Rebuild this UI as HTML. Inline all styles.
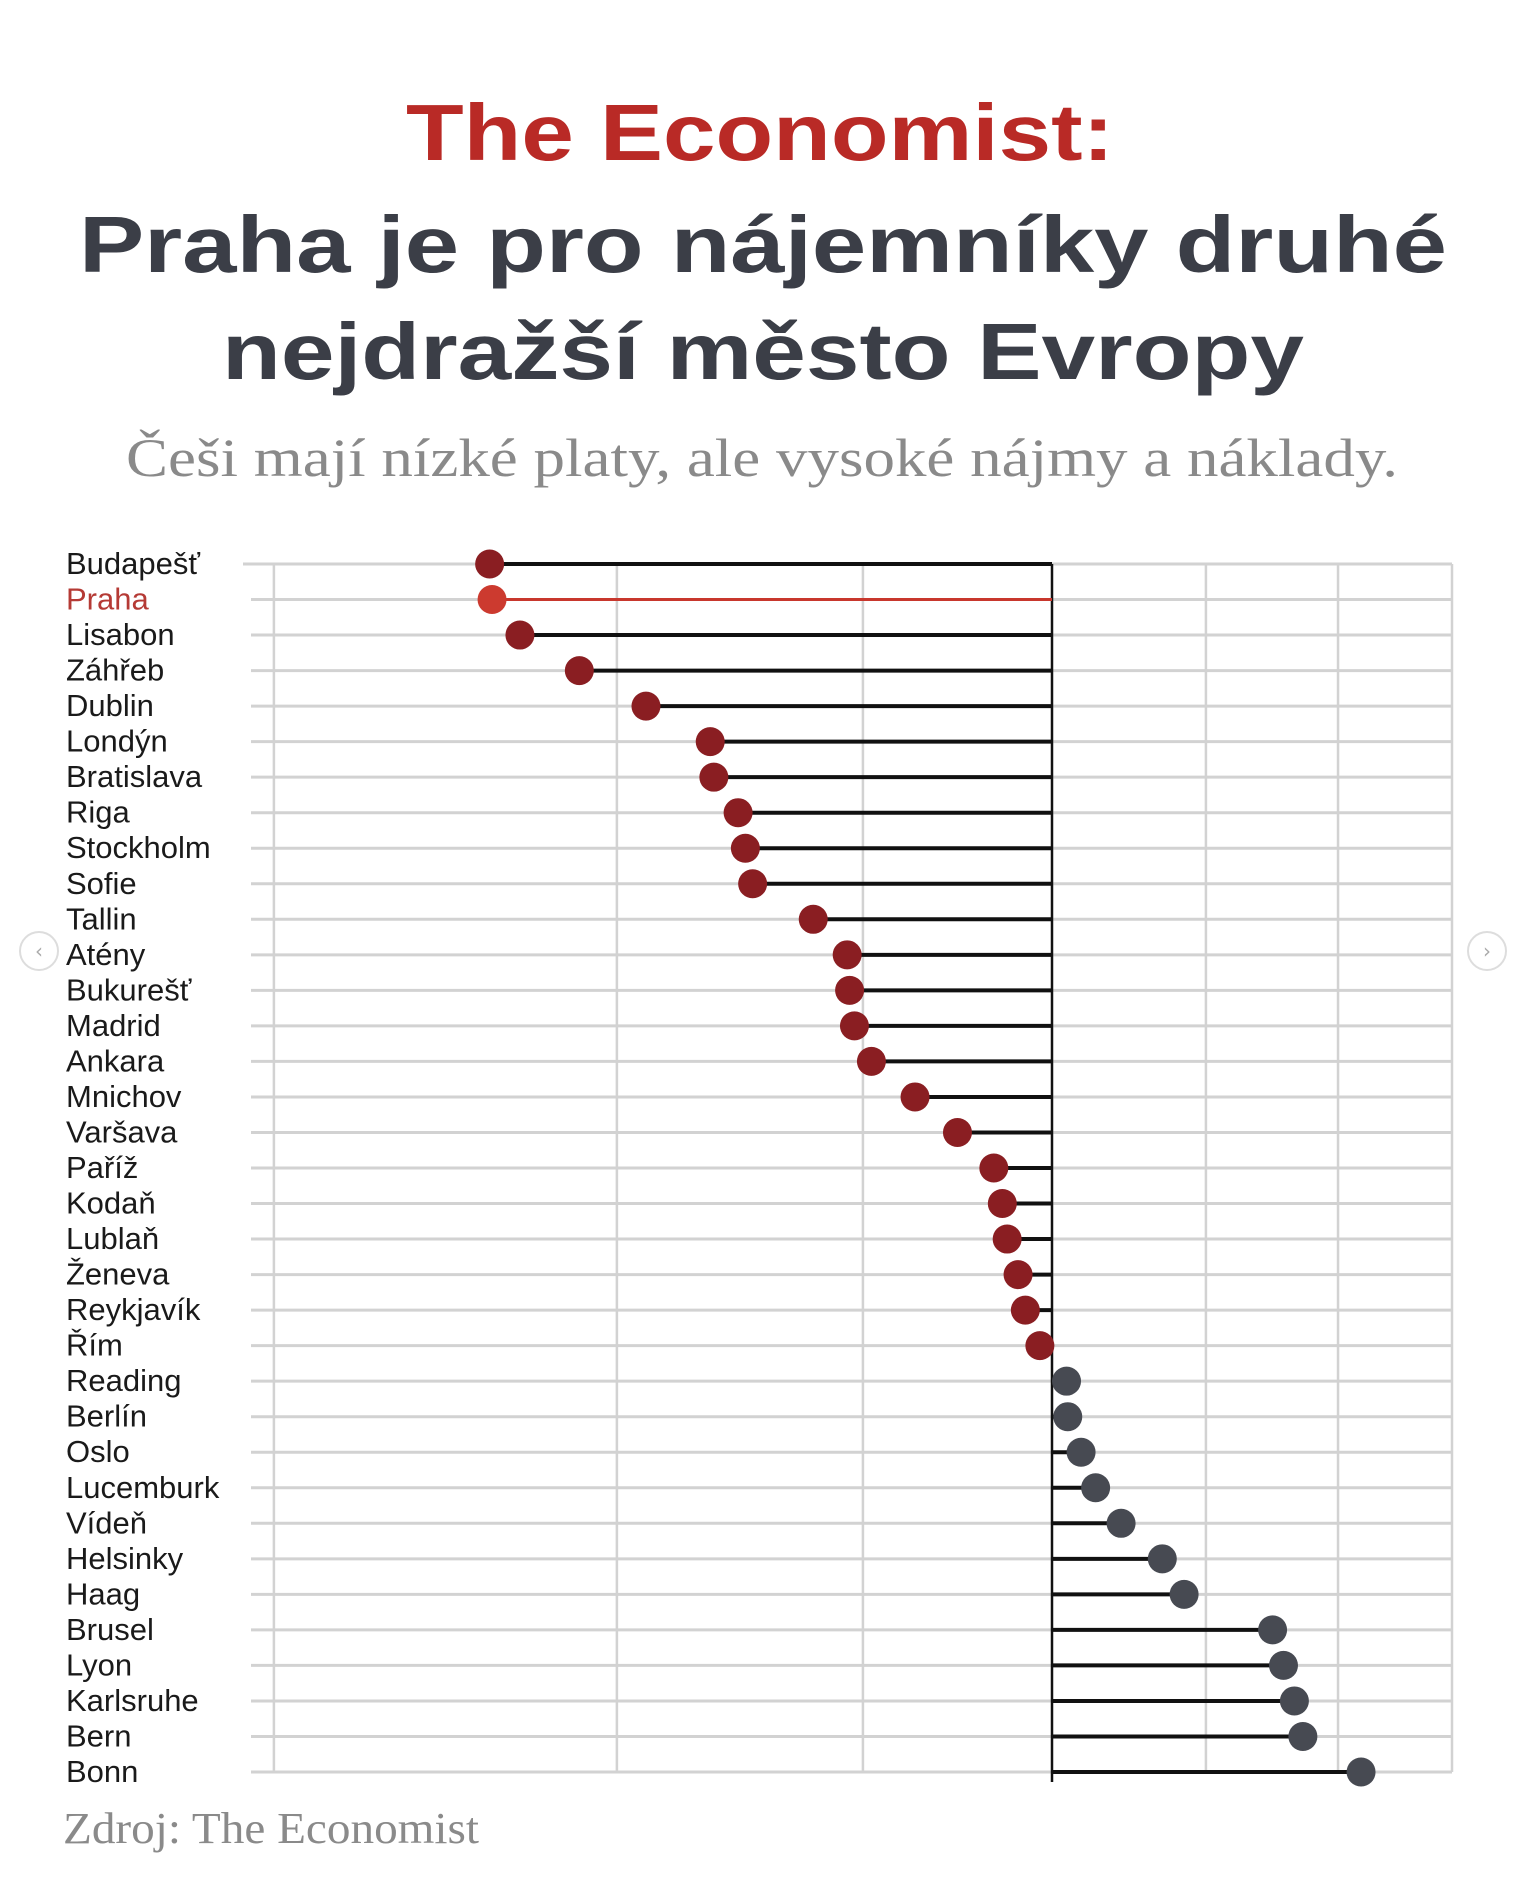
<!DOCTYPE html>
<html><head><meta charset="utf-8"><style>
html,body{margin:0;padding:0;background:#fff}
svg{display:block}
</style></head><body>
<svg id="chart" width="1515" height="1891" xmlns="http://www.w3.org/2000/svg">
<rect width="1515" height="1891" fill="#fff"/>
<text x="760" y="160" text-anchor="middle" font-family="Liberation Sans, sans-serif" font-weight="bold" font-size="80" fill="#b92a26" textLength="708" lengthAdjust="spacingAndGlyphs">The Economist:</text>
<text x="763" y="272" text-anchor="middle" font-family="Liberation Sans, sans-serif" font-weight="bold" font-size="80" fill="#3b3e47" textLength="1368" lengthAdjust="spacingAndGlyphs">Praha je pro nájemníky druhé</text>
<text x="763" y="379" text-anchor="middle" font-family="Liberation Sans, sans-serif" font-weight="bold" font-size="80" fill="#3b3e47" textLength="1082" lengthAdjust="spacingAndGlyphs">nejdražší město Evropy</text>
<text x="762" y="476" text-anchor="middle" font-family="Liberation Serif, serif" font-size="54" fill="#8a8a8a" textLength="1272" lengthAdjust="spacingAndGlyphs">Češi mají nízké platy, ale vysoké nájmy a náklady.</text>
<text x="63" y="1843" font-family="Liberation Serif, serif" font-size="44" fill="#8a8a8a" textLength="416" lengthAdjust="spacingAndGlyphs">Zdroj: The Economist</text>
<circle cx="39" cy="951" r="19" fill="#fff" stroke="#ddd" stroke-width="2"/>
<text x="39" y="958" text-anchor="middle" font-family="DejaVu Sans, sans-serif" font-size="20" fill="#aaa">‹</text>
<circle cx="1487" cy="951" r="19" fill="#fff" stroke="#ddd" stroke-width="2"/>
<text x="1487" y="958" text-anchor="middle" font-family="DejaVu Sans, sans-serif" font-size="20" fill="#aaa">›</text>
<g id="plot"></g>
</svg>
<script>
const cities = ["Budapešť","Praha","Lisabon","Záhřeb","Dublin","Londýn","Bratislava","Riga","Stockholm","Sofie","Tallin","Atény","Bukurešť","Madrid","Ankara","Mnichov","Varšava","Paříž","Kodaň","Lublaň","Ženeva","Reykjavík","Řím","Reading","Berlín","Oslo","Lucemburk","Vídeň","Helsinky","Haag","Brusel","Lyon","Karlsruhe","Bern","Bonn"];
const values = [-464,-462,-439,-390,-335,-282,-279,-259,-253,-247,-197,-169,-167,-163,-149,-113,-78,-48,-41,-37,-28,-22,-10,12,13,24,36,57,91,109,182,191,200,207,255];
const gridValues = [-642,-359,-156,127,236];
const highlight = "Praha";

const NS = "http://www.w3.org/2000/svg";
const g = document.getElementById("plot");
const x0 = 1052, unit = 1.212;
const xScale = v => x0 + v * unit;
const yTop = 564, rowStep = (1772 - 564) / (cities.length - 1);
const yScale = i => yTop + i * rowStep;
function mk(tag, attrs){const e=document.createElementNS(NS,tag);for(const k in attrs)e.setAttribute(k,attrs[k]);g.appendChild(e);return e;}

cities.forEach((c,i)=>{
  const l = mk("line",{x1:i===0?243:251,x2:1452,y1:yScale(i),y2:yScale(i),stroke:"#d2d2d2","stroke-width":3});
  
  
});
gridValues.forEach(v=>{
  const l = mk("line",{x1:xScale(v),x2:xScale(v),y1:yTop,y2:yScale(cities.length-1),stroke:"#d2d2d2","stroke-width":2.5});
  
  
});
const right = mk("line",{x1:1452,x2:1452,y1:yTop,y2:yScale(cities.length-1),stroke:"#d2d2d2","stroke-width":2.5});



const axis = mk("line",{x1:x0,x2:x0,y1:yTop,y2:yScale(cities.length-1)+10,stroke:"#111","stroke-width":2.5});



cities.forEach((c,i)=>{
  const y = yScale(i), v = values[i], hl = c===highlight;
  const t = mk("text",{x:66,y:y+10,"font-family":"Liberation Sans, sans-serif","font-size":31,fill:hl?"#b53a35":"#1a1a1a"});
  t.textContent = c;
  
  
  const s = mk("line",{x1:xScale(v),x2:x0,y1:y,y2:y,stroke:hl?"#c8372d":"#111","stroke-width":hl?3:4});
  
  
  const d = mk("circle",{cx:xScale(v),cy:y,r:14.5,fill:hl?"#cc3a2f":(v<0?"#8a1e22":"#474a52")});
  
  
});
</script>
</body></html>
